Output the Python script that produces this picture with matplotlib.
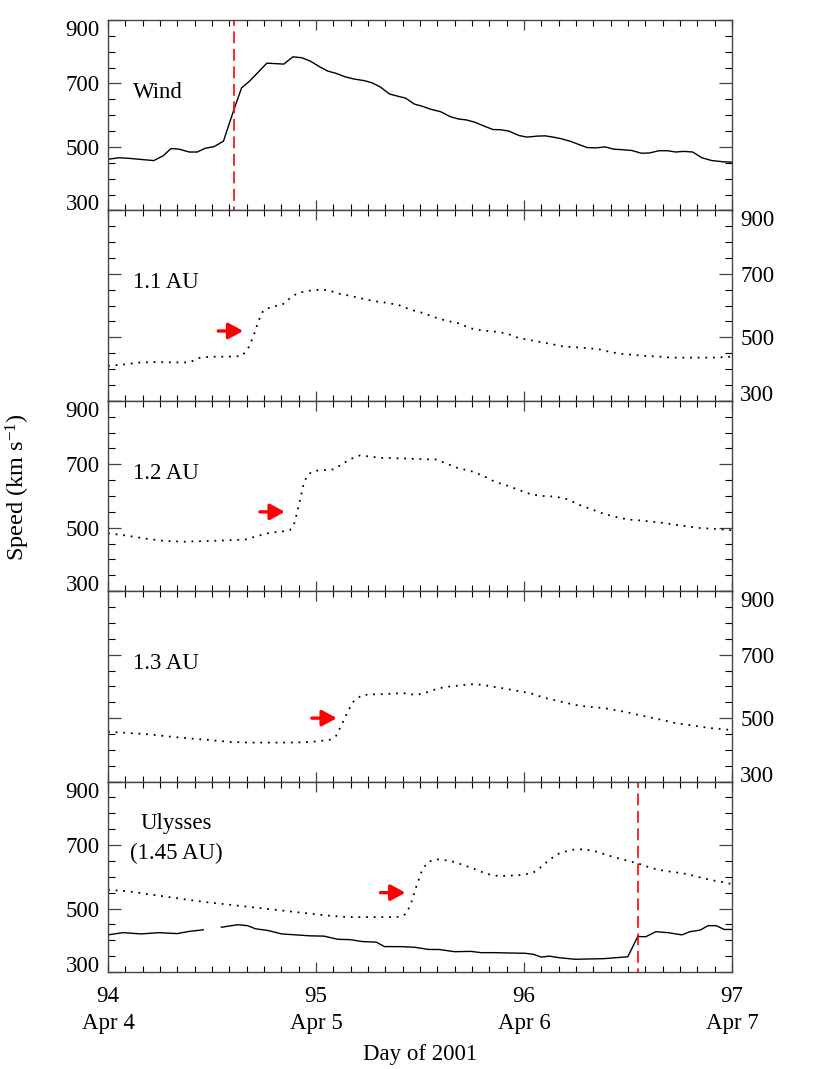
import numpy as np
import matplotlib
matplotlib.use("Agg")
import matplotlib.pyplot as plt
from matplotlib.ticker import FixedLocator, MultipleLocator

plt.rcParams['font.family'] = ['Liberation Serif', 'DejaVu Serif']
plt.rcParams['mathtext.fontset'] = 'custom'
plt.rcParams['mathtext.rm'] = 'Liberation Serif'
plt.rcParams['mathtext.it'] = 'Liberation Serif:italic'
plt.rcParams['lines.scale_dashes'] = False

# ---------------- data ----------------
wind_day = [94.000, 94.052, 94.101, 94.168, 94.220, 94.265, 94.303, 94.342, 94.390, 94.429,
            94.468, 94.510, 94.555, 94.603, 94.642, 94.680, 94.764, 94.845, 94.889, 94.932,
            94.974, 95.019, 95.057, 95.096, 95.140, 95.183, 95.231, 95.270, 95.309, 95.353,
            95.392, 95.430, 95.473, 95.512, 95.550, 95.599, 95.647, 95.686, 95.724, 95.763,
            95.811, 95.850, 95.889, 95.927, 95.976, 96.014, 96.063, 96.101, 96.140, 96.178,
            96.227, 96.266, 96.304, 96.343, 96.391, 96.430, 96.478, 96.517, 96.565, 96.604,
            96.648, 96.691, 96.729, 96.768, 96.811, 96.855, 96.903, 96.961, 97.000]
wind_speed = [461, 466, 464, 460, 457, 472, 495, 493, 484, 484,
              496, 501, 518, 613, 686, 707, 764, 761, 784, 781,
              770, 752, 739, 732, 721, 714, 709, 702, 689, 667,
              660, 654, 635, 628, 619, 611, 595, 588, 585, 578,
              565, 555, 554, 550, 536, 531, 534, 535, 531, 526,
              517, 507, 498, 497, 500, 493, 491, 489, 480, 481,
              488, 488, 484, 486, 484, 466, 457, 453, 452]

au11_day = [94.000, 94.081, 94.159, 94.236, 94.313, 94.391, 94.439, 94.487, 94.565, 94.642,
            94.671, 94.699, 94.723, 94.747, 94.795, 94.834, 94.873, 94.912, 94.970, 95.029,
            95.067, 95.106, 95.164, 95.222, 95.280, 95.338, 95.397, 95.455, 95.513, 95.571,
            95.629, 95.687, 95.745, 95.803, 95.861, 95.919, 95.957, 96.015, 96.073, 96.131,
            96.189, 96.247, 96.305, 96.363, 96.421, 96.479, 96.537, 96.595, 96.653, 96.711,
            96.769, 96.827, 96.885, 96.943, 97.000]
au11_speed = [410, 415, 421, 422, 421, 421, 435, 439, 439, 441,
              461, 503, 551, 585, 598, 601, 622, 640, 647, 651,
              647, 638, 631, 622, 614, 609, 602, 587, 577, 563,
              552, 544, 528, 521, 518, 512, 501, 493, 486, 479,
              471, 469, 466, 462, 453, 447, 444, 441, 439, 436,
              436, 436, 436, 437, 439]

au12_day = [94.000, 94.081, 94.178, 94.275, 94.371, 94.468, 94.565, 94.661, 94.719, 94.777,
            94.835, 94.874, 94.897, 94.922, 94.942, 94.961, 94.990, 95.038, 95.087, 95.125,
            95.164, 95.212, 95.261, 95.319, 95.377, 95.435, 95.512, 95.580, 95.628, 95.686,
            95.744, 95.802, 95.860, 95.918, 95.976, 96.034, 96.093, 96.151, 96.209, 96.267,
            96.325, 96.383, 96.441, 96.499, 96.557, 96.615, 96.673, 96.731, 96.789, 96.847,
            96.905, 96.963, 97.000]
au12_speed = [482, 476, 466, 458, 456, 458, 460, 463, 474, 484,
              488, 492, 516, 584, 642, 668, 679, 682, 684, 700,
              716, 728, 724, 720, 719, 718, 716, 715, 702, 687,
              679, 664, 645, 633, 619, 605, 600, 598, 590, 572,
              558, 544, 534, 526, 523, 519, 515, 509, 504, 499,
              497, 494, 492]

au13_day = [94.000, 94.101, 94.197, 94.294, 94.391, 94.487, 94.584, 94.681, 94.777, 94.874,
            94.951, 95.009, 95.067, 95.096, 95.125, 95.154, 95.183, 95.222, 95.280, 95.338,
            95.415, 95.483, 95.531, 95.589, 95.647, 95.705, 95.754, 95.802, 95.860, 95.918,
            95.976, 96.034, 96.093, 96.151, 96.209, 96.267, 96.325, 96.383, 96.441, 96.499,
            96.557, 96.615, 96.673, 96.731, 96.789, 96.847, 96.905, 96.963, 97.000]
au13_speed = [457, 453, 449, 442, 436, 431, 425, 423, 423, 423,
              424, 427, 432, 444, 481, 523, 555, 573, 575, 576,
              579, 573, 581, 594, 600, 604, 607, 605, 598, 592,
              585, 578, 565, 556, 547, 539, 535, 532, 525, 518,
              509, 501, 493, 484, 479, 473, 468, 465, 462]

uly_model_day = [94.000, 94.101, 94.197, 94.294, 94.391, 94.487, 94.584, 94.681, 94.777, 94.874,
                 94.971, 95.067, 95.164, 95.261, 95.357, 95.406, 95.435, 95.458, 95.483, 95.512,
                 95.541, 95.589, 95.647, 95.705, 95.764, 95.822, 95.880, 95.938, 95.996, 96.044,
                 96.083, 96.122, 96.170, 96.228, 96.286, 96.344, 96.402, 96.460, 96.518, 96.557,
                 96.615, 96.673, 96.731, 96.789, 96.847, 96.905, 96.963, 97.000]
uly_model_speed = [559, 554, 545, 536, 527, 519, 512, 505, 498, 491,
                   484, 477, 473, 473, 473, 474, 484, 519, 571, 624,
                   648, 655, 650, 638, 624, 609, 602, 604, 606, 613,
                   631, 654, 674, 685, 687, 680, 668, 657, 647, 640,
                   627, 619, 614, 608, 598, 589, 582, 577]

uly_obs_day = [94.000, 94.072, 94.159, 94.246, 94.333, 94.391, 94.458, 94.500, 94.545, 94.623,
               94.671, 94.710, 94.768, 94.835, 94.903, 94.971, 95.038, 95.106, 95.164, 95.222,
               95.290, 95.329, 95.406, 95.474, 95.541, 95.590, 95.667, 95.744, 95.793, 95.860,
               95.918, 96.005, 96.044, 96.083, 96.121, 96.170, 96.247, 96.305, 96.383, 96.441,
               96.499, 96.547, 96.585, 96.634, 96.692, 96.759, 96.798, 96.847, 96.885, 96.924,
               96.963, 97.000]
uly_obs_speed = [417, 424, 420, 424, 421, 428, 433, np.nan, 441, 449,
                 446, 436, 431, 420, 417, 414, 413, 403, 402, 396,
                 394, 380, 380, 378, 371, 371, 364, 365, 361, 361,
                 360, 359, 356, 347, 350, 345, 340, 341, 342, 345,
                 348, 412, 411, 427, 424, 417, 427, 432, 446, 446,
                 434, 434]

panel_labels = ["Wind", "1.1 AU", "1.2 AU", "1.3 AU", "Ulysses\n(1.45 AU)"]
shock_days = [94.607, 96.548]           # red dashed lines (panel 1 and panel 5)
arrow_start = [94.53, 94.73, 94.98, 95.31]
arrow_end = [94.65, 94.85, 95.10, 95.43]
arrow_speed = [520, 550, 500, 550]
ytick_vals = [300, 500, 700, 900]
xtick_vals = [94, 95, 96, 97]
xtick_labels = ["94\nApr 4", "95\nApr 5", "96\nApr 6", "97\nApr 7"]

# ---------------- figure ----------------
W, H = 830, 1069
fig = plt.figure(figsize=(W / 100, H / 100), dpi=100)
left, right = 108 / W, 732 / W
top_px, bot_px = 20, 972
n = 5
ph = (bot_px - top_px) / n
axes = []
for i in range(n):
    y0 = 1 - (top_px + (i + 1) * ph) / H
    ax = fig.add_axes([left, y0, right - left, ph / H])
    axes.append(ax)

FS = 16.5
frame_col = '#444444'
dotted = (0, (1.3, 4.2))

series = [(wind_day, wind_speed, '-'),
          (au11_day, au11_speed, dotted),
          (au12_day, au12_speed, dotted),
          (au13_day, au13_speed, dotted),
          (uly_model_day, uly_model_speed, dotted)]

for i, ax in enumerate(axes):
    d, s, ls = series[i]
    ax.plot(d, s, color='black', lw=1.0 if ls == '-' else 1.3, linestyle=ls)
    if i == 4:
        ax.plot(uly_obs_day, uly_obs_speed, color='black', lw=1.0)
    ax.set_xlim(94, 97)
    ax.set_ylim(300, 900)
    for sp in ax.spines.values():
        sp.set_color(frame_col)
        sp.set_linewidth(1.0)
    ax.xaxis.set_major_locator(FixedLocator(xtick_vals))
    ax.xaxis.set_minor_locator(MultipleLocator(1 / 12))
    ax.yaxis.set_major_locator(FixedLocator(ytick_vals))
    ax.yaxis.set_minor_locator(MultipleLocator(50))
    ax.tick_params(axis='x', which='major', direction='in', length=7.5, width=0.9,
                   top=True, bottom=True, color=frame_col)
    ax.tick_params(axis='x', which='minor', direction='in', length=4.3, width=0.8,
                   top=True, bottom=True, color='black')
    ax.tick_params(axis='y', which='major', direction='in', length=9.5, width=0.9,
                   left=True, right=True, color=frame_col)
    ax.tick_params(axis='y', which='minor', direction='in', length=5.0, width=0.8,
                   left=True, right=True, color='black')
    label_left = (i % 2 == 0)
    ax.tick_params(axis='y', which='both', labelleft=label_left, labelright=not label_left,
                   labelsize=FS, pad=6)
    ax.set_yticklabels([str(v) for v in ytick_vals])
    for tk in ax.yaxis.get_major_ticks():
        for lab in (tk.label1, tk.label2):
            if lab.get_text() == '900':
                lab.set_va('top')
            elif lab.get_text() == '300':
                lab.set_va('baseline')
    if i < 4:
        ax.tick_params(axis='x', labelbottom=False)
    else:
        ax.set_xticklabels(xtick_labels)
        ax.tick_params(axis='x', labelsize=FS, pad=10)
        for lab in ax.get_xticklabels():
            lab.set_linespacing(1.4)
        ax.set_xlabel("Day of 2001", fontsize=FS, labelpad=7)

    # panel labels
    if i < 4:
        ax.text(94.12, 672 if i else 671, panel_labels[i], fontsize=FS,
                ha='left', va='center')
    else:
        ax.text(94.33, 722, panel_labels[i], fontsize=FS, ha='center', va='center',
                multialignment='center', linespacing=1.55)

# red arrows
for k in range(4):
    axes[k + 1].annotate('', xy=(arrow_end[k], arrow_speed[k]),
                         xytext=(arrow_start[k], arrow_speed[k]),
                         arrowprops=dict(arrowstyle='-|>,head_length=0.55,head_width=0.3',
                                         color='red', lw=2.4, mutation_scale=16,
                                         shrinkA=0, shrinkB=0))

# red dashed vertical lines
for ax, xd in ((axes[0], shock_days[0]), (axes[4], shock_days[1])):
    ax.axvline(xd, color='red', lw=1.2, linestyle=(6, (8.6, 4.0)))

fig.text(18 / W, 1 - 487 / H, "Speed (km s$^{-1}$)", rotation=90, fontsize=FS + 1,
         ha='center', va='center')

fig.savefig("out.png", dpi=100)
